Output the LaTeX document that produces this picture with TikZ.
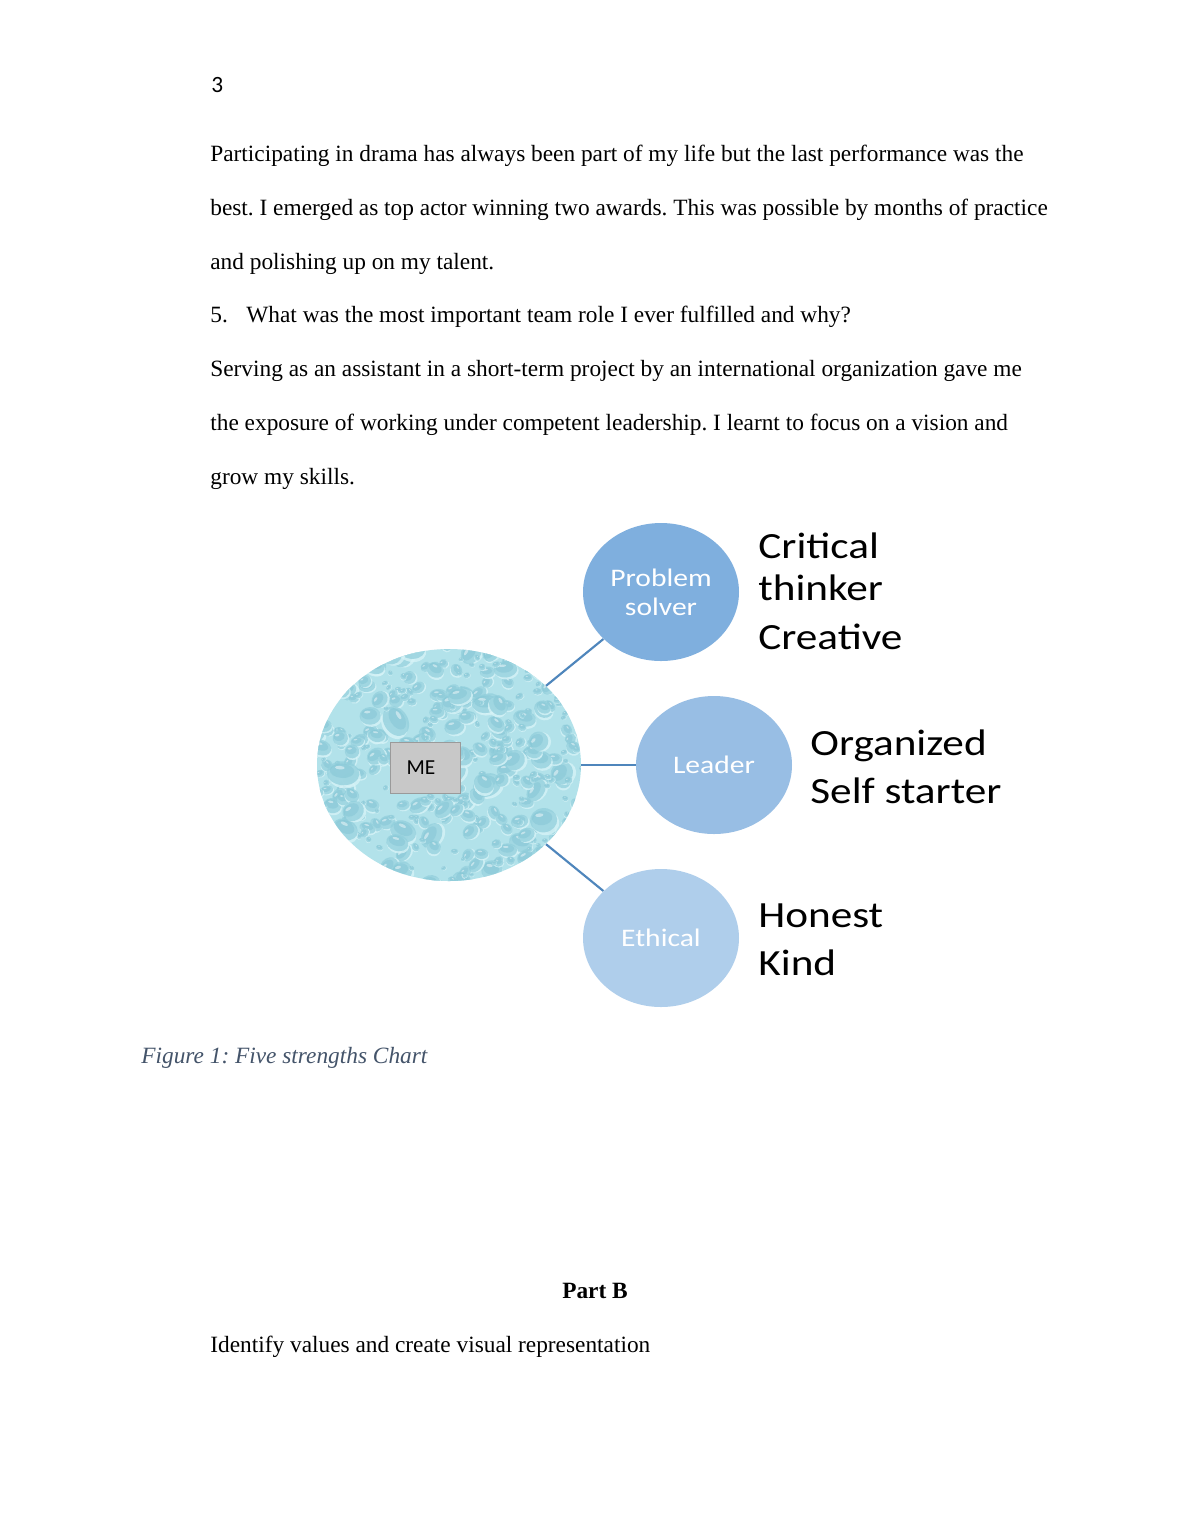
\documentclass[tikz,border=0pt]{standalone}
\usepackage{fontspec}
\setmainfont{Liberation Serif}
\newfontfamily\diag[FakeStretch=1.17]{Carlito}
\newfontfamily\carl{Carlito}
\usetikzlibrary{shapes.geometric}
\definecolor{cPS}{HTML}{7FAFDE}
\definecolor{cLD}{HTML}{98BEE4}
\definecolor{cET}{HTML}{AFCEEB}
\definecolor{cConn}{HTML}{4F86BC}
\definecolor{cCap}{HTML}{44546A}
\definecolor{wBase}{HTML}{B2E2EA}
\definecolor{wDark}{HTML}{92CFDC}
\definecolor{wDeep}{HTML}{80C3D3}
\definecolor{wLight}{HTML}{D6F3F7}
\definecolor{boxFill}{HTML}{C8C8C8}
\definecolor{boxLine}{HTML}{9A9A9A}
\tikzset{
  body/.style={anchor=base west, inner sep=0pt, font=\fontsize{12}{14}\selectfont},
  role/.style={ellipse, minimum width=156*0.514286pt, minimum height=138*0.514286pt, inner sep=0pt, text=white, font=\diag\fontsize{13}{15}\selectfont, align=center},
  trait/.style={anchor=base west, inner sep=0pt, font=\diag\fontsize{19}{22}\selectfont},
  conn/.style={draw=cConn, line width=1.1pt},
}
\frenchspacing
\begin{document}
\begin{tikzpicture}[x=0.514286pt, y=-0.514286pt]
\useasboundingbox (0,0) rectangle (1190,1540);
\fill[white] (0,0) rectangle (1190,1540);

% page number
\node[body, font=\carl\fontsize{12}{14}\selectfont] (pnum) at (211,92) {3};

% paragraph
\node[body] (l1) at (210,161) {Participating in drama has always been part of my life but the last performance was the};
\node[body] (l2) at (210,215) {best. I emerged as top actor winning two awards. This was possible by months of practice};
\node[body] (l3) at (210,269) {and polishing up on my talent.};
\node[body] (l4a) at (210,322) {5.};
\node[body] (l4b) at (246,322) {What was the most important team role I ever fulfilled and why?};
\node[body] (l5) at (210,376) {Serving as an assistant in a short-term project by an international organization gave me};
\node[body] (l6) at (210,430) {the exposure of working under competent leadership. I learnt to focus on a vision and};
\node[body] (l7) at (210,484) {grow my skills.};

% ME ellipse with water-drop texture
\node[ellipse, minimum width=264*0.514286pt, minimum height=232*0.514286pt, inner sep=0pt, fill=wBase] (me) at (449,765) {};
\begin{scope}
  \clip (449,765) ellipse [x radius=132, y radius=116];
  \pgfmathsetseed{5}
  \foreach \i in {1,...,480}{
    \pgfmathsetmacro\xx{310+278*rnd}
    \pgfmathsetmacro\yy{642+246*rnd}
    \pgfmathsetmacro\rr{2+11*rnd*rnd}
    \pgfmathsetmacro\ee{1+0.5*rnd}
    \pgfmathsetmacro\aa{-60+120*rnd}
    \begin{scope}[shift={(\xx,\yy)}, rotate=\aa]
      \fill[wLight, opacity=0.8] (0.15*\rr,0.25*\rr) ellipse [x radius=\ee*\rr, y radius=\rr];
      \fill[wDark, opacity=0.75] (0,0) ellipse [x radius=\ee*\rr, y radius=\rr];
      \fill[wDeep, opacity=0.45] (-0.1*\rr,-0.2*\rr) ellipse [x radius=0.75*\ee*\rr, y radius=0.6*\rr];
      \fill[white, opacity=0.45] (-0.3*\rr,-0.45*\rr) ellipse [x radius=0.3*\ee*\rr, y radius=0.15*\rr];
    \end{scope}
  }
\end{scope}

% ME box
\node[draw=boxLine, fill=boxFill, minimum width=70*0.514286pt, minimum height=51*0.514286pt, inner sep=0pt] (mebox) at (425,767.5) {};
\node[inner sep=0pt, font=\carl\fontsize{11}{12}\selectfont] (metext) at (421,767.5) {ME};

% role circles
\node[role, fill=cPS] (ps) at (661,592) {Problem\\solver};
\node[role, fill=cLD] (ld) at (714,765) {Leader};
\node[role, fill=cET] (et) at (661,938) {Ethical};

% connectors
\draw[conn] (me) -- (ps);
\draw[conn] (me) -- (ld);
\draw[conn] (me) -- (et);

% traits
\node[trait] (t1) at (758,558) {Critical};
\node[trait] (t2) at (758,600) {thinker};
\node[trait] (t3) at (758,649) {Creative};
\node[trait] (t4) at (810,755) {Organized};
\node[trait] (t5) at (810,803) {Self starter};
\node[trait] (t6) at (758,927) {Honest};
\node[trait] (t7) at (758,975) {Kind};

% caption
\node[body, font=\itshape\fontsize{12}{14}\selectfont, text=cCap] (cap) at (141,1063) {Figure 1: Five strengths Chart};

% Part B
\node[anchor=base, inner sep=0pt, font=\bfseries\fontsize{12}{14}\selectfont] (partb) at (595,1298) {Part B};
\node[body] (ident) at (210,1352) {Identify values and create visual representation};
\end{tikzpicture}
\end{document}
